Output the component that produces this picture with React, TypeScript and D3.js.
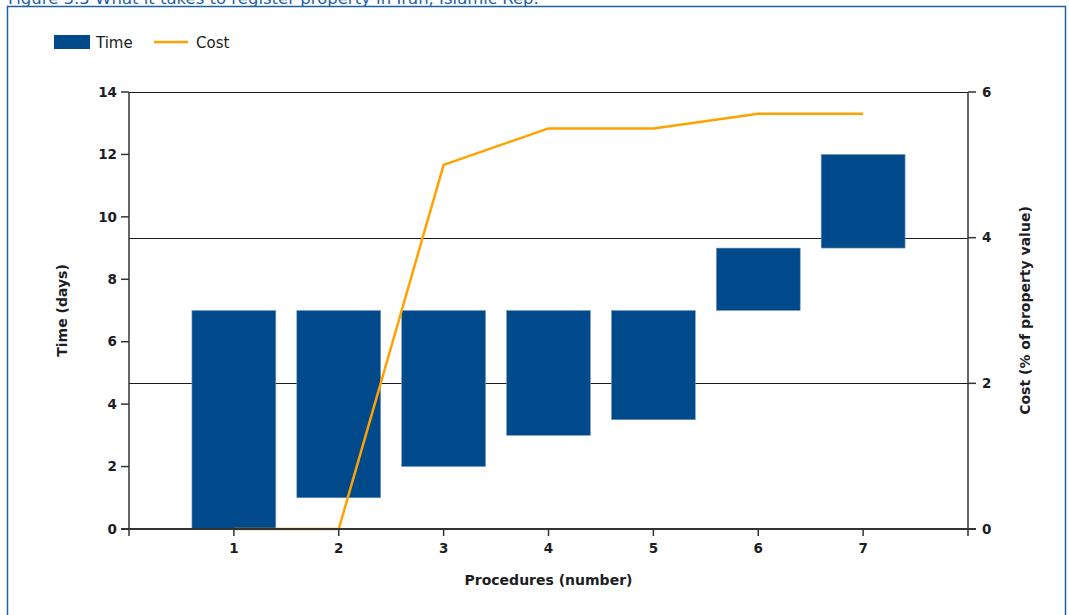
import React from "react";
import * as d3 from "d3";

const procedures = [1, 2, 3, 4, 5, 6, 7];
const timeStart = [0, 1, 2, 3, 3.5, 7, 9];
const timeEnd = [7, 7, 7, 7, 7, 9, 12];
const costValues = [0, 0, 5.0, 5.5, 5.5, 5.7, 5.7];
const leftTicks = [0, 2, 4, 6, 8, 10, 12, 14];
const rightTicks = [0, 2, 4, 6];
const gridTicks = [2, 4, 6];

const W = 1069;
const H = 615;
const L = 129;
const R = 968;
const T = 92;
const B = 529;

const BAR = "#004a8c";
const LINE = "#ffa200";
const TXT = "#1c1c24";
const AXIS = "#333333";
const FONT = "Tahoma, 'DejaVu Sans', sans-serif";
const FS = 13.5;

export default function App() {
  const x = d3.scaleLinear().domain([0, 8]).range([L, R]);
  const yL = d3.scaleLinear().domain([0, 14]).range([B, T]);
  const yR = d3.scaleLinear().domain([0, 6]).range([B, T]);
  const bw = x(0.8) - x(0);

  const line = d3
    .line<number>()
    .x((_, i) => x(procedures[i]))
    .y((d) => yR(d));

  return (
    <div style={{ position: "fixed", left: 0, top: 0 }}>
      <svg width={W} height={H} style={{ display: "block", background: "#fff" }}>
        <text x={8} y={3.5} fontFamily={FONT} fontSize={16.5} fill="#1f5fa8">
          Figure 3.5 What it takes to register property in Iran, Islamic Rep.
        </text>
        <rect x={7.5} y={6.5} width={1058} height={640} fill="none" stroke="#1f5fa8" strokeWidth={1.5} />

        {/* legend */}
        <rect x={54} y={35} width={36} height={14} fill={BAR} />
        <text x={96} y={47.5} fontFamily={FONT} fontSize={15} fill={TXT}>Time</text>
        <line x1={154} x2={188} y1={42} y2={42} stroke={LINE} strokeWidth={2.5} />
        <text x={196} y={47.5} fontFamily={FONT} fontSize={15} fill={TXT}>Cost</text>

        {/* gridlines */}
        {gridTicks.map((t) => (
          <line key={"g" + t} x1={L} x2={R} y1={Math.round(yR(t)) + 0.5} y2={Math.round(yR(t)) + 0.5} stroke="#1a1a1a" strokeWidth={1.2} />
        ))}

        {/* bars */}
        {procedures.map((p, i) => (
          <rect
            key={"b" + p}
            x={x(p) - bw / 2}
            y={yL(timeEnd[i])}
            width={bw}
            height={yL(timeStart[i]) - yL(timeEnd[i])}
            fill={BAR}
            stroke="#7d9cc4"
            strokeWidth={0.6}
          />
        ))}

        {/* cost line */}
        <path d={line(costValues) || ""} fill="none" stroke={LINE} strokeWidth={2.5} strokeLinejoin="round" />

        {/* axes */}
        <line x1={L} x2={L} y1={T} y2={B + 7} stroke={AXIS} strokeWidth={1.5} />
        <line x1={R} x2={R} y1={T} y2={B + 7} stroke={AXIS} strokeWidth={1.5} />
        <line x1={L - 8} x2={R + 8} y1={B} y2={B} stroke={AXIS} strokeWidth={1.8} />

        {leftTicks.map((t) => (
          <g key={"l" + t}>
            <line x1={L - 8} x2={L} y1={yL(t)} y2={yL(t)} stroke={AXIS} strokeWidth={1.5} />
            <text x={L - 12} y={yL(t)} dy="0.35em" textAnchor="end" fontFamily={FONT} fontWeight="bold" fontSize={FS} fill={TXT}>
              {t}
            </text>
          </g>
        ))}
        {rightTicks.map((t) => (
          <g key={"r" + t}>
            <line x1={R} x2={R + 8} y1={yR(t)} y2={yR(t)} stroke={AXIS} strokeWidth={1.5} />
            <text x={R + 14} y={yR(t)} dy="0.35em" textAnchor="start" fontFamily={FONT} fontWeight="bold" fontSize={FS} fill={TXT}>
              {t}
            </text>
          </g>
        ))}
        {procedures.map((p) => (
          <g key={"x" + p}>
            <line x1={x(p)} x2={x(p)} y1={B} y2={B + 7} stroke={AXIS} strokeWidth={1.5} />
            <text x={x(p)} y={B + 24} textAnchor="middle" fontFamily={FONT} fontWeight="bold" fontSize={FS} fill={TXT}>
              {p}
            </text>
          </g>
        ))}

        <text x={(L + R) / 2} y={585} textAnchor="middle" fontFamily={FONT} fontWeight="bold" fontSize={14} fill={TXT}>
          Procedures (number)
        </text>
        <text transform={`translate(67, ${(T + B) / 2}) rotate(-90)`} textAnchor="middle" fontFamily={FONT} fontWeight="bold" fontSize={14} fill={TXT}>
          Time (days)
        </text>
        <text transform={`translate(1030, ${(T + B) / 2}) rotate(-90)`} textAnchor="middle" fontFamily={FONT} fontWeight="bold" fontSize={14} fill={TXT}>
          Cost (% of property value)
        </text>
      </svg>
    </div>
  );
}
